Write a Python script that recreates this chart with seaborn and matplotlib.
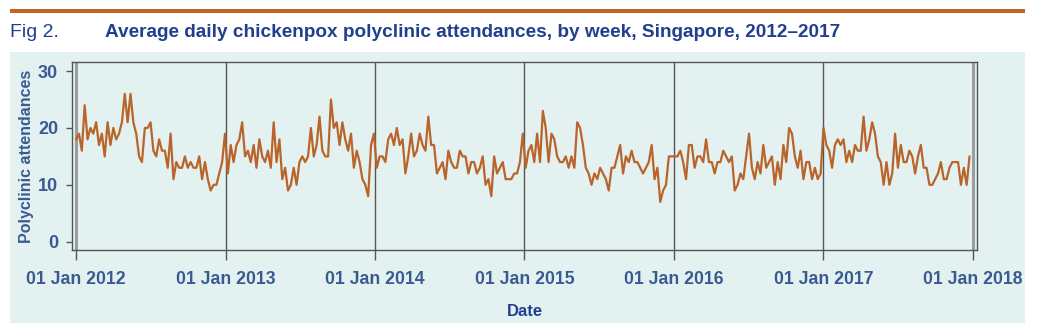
import numpy as np
import pandas as pd
import matplotlib
matplotlib.use("Agg")
import matplotlib.pyplot as plt
import matplotlib.dates as mdates
from matplotlib.patches import Rectangle
import seaborn as sns

# ---- data: average daily attendances by week ----
vals_2012 = [18, 19, 16, 24, 18, 20, 19, 21, 17, 19, 15, 21, 17, 20, 18, 19, 21, 26, 21, 26,
             21, 19, 15, 14, 20, 20, 21, 16, 15, 18, 16, 16, 13, 19, 11, 14, 13, 13, 15, 13,
             14, 13, 13, 15, 11, 14, 11, 9, 10, 10, 12, 14]
vals_2013 = [19, 12, 17, 14, 17, 18, 21, 15, 16, 14, 17, 13, 18, 15, 14, 16, 13, 21, 14, 18,
             11, 13, 9, 10, 13, 10, 14, 15, 14, 15, 20, 15, 17, 22, 16, 15, 15, 25, 20, 21,
             17, 21, 18, 16, 19, 13, 16, 14, 11, 10, 8, 17]
vals_2014 = [19, 13, 15, 15, 14, 18, 19, 17, 20, 17, 18, 12, 15, 19, 15, 16, 19, 17, 16, 22,
             17, 17, 12, 13, 14, 11, 16, 14, 13, 13, 16, 15, 15, 12, 14, 14, 12, 13, 15, 10,
             11, 8, 15, 12, 13, 14, 11, 11, 11, 12, 12, 14]
vals_2015 = [19, 13, 16, 17, 14, 19, 14, 23, 20, 14, 19, 18, 15, 14, 14, 15, 13, 15, 13, 21,
             20, 17, 13, 12, 10, 12, 11, 13, 12, 11, 9, 13, 13, 15, 17, 12, 15, 14, 16, 14,
             14, 13, 12, 13, 14, 17, 11, 13, 7, 9, 10, 15, 15]
vals_2016 = [15, 15, 16, 14, 11, 17, 17, 13, 15, 15, 14, 18, 14, 14, 12, 14, 14, 16, 15, 14,
             15, 9, 10, 12, 11, 15, 19, 13, 11, 14, 12, 17, 13, 14, 15, 10, 14, 11, 17, 14,
             20, 19, 15, 13, 16, 11, 14, 14, 11, 13, 11, 12]
vals_2017 = [20, 17, 16, 13, 17, 18, 17, 18, 14, 16, 14, 17, 16, 16, 22, 16, 18, 21, 19, 15,
             14, 10, 14, 10, 12, 19, 13, 17, 14, 14, 16, 15, 12, 15, 17, 13, 13, 10, 10, 11,
             12, 14, 11, 11, 13, 14, 14, 14, 10, 13, 10, 15]
years = [2012, 2013, 2014, 2015, 2016, 2017, 2018]
y_ticks = [0, 10, 20, 30]

values = vals_2012 + vals_2013 + vals_2014 + vals_2015 + vals_2016 + vals_2017
dates = pd.date_range("2012-01-01", periods=len(values), freq="7D")
df = pd.DataFrame({"Date": dates, "Polyclinic attendances": values})

# ---- style ----
sns.set_theme(style="white")
plt.rcParams["font.family"] = ["Liberation Sans", "DejaVu Sans"]

W, H = 1039, 331
TITLE_BLUE = "#223f8e"
TICK_BLUE = "#3a5a92"
LINE_COL = "#b9642a"
PANEL = "#e3f1f0"
SPINE = "#555555"

fig = plt.figure(figsize=(W / 100, H / 100), dpi=100)
fig.patch.set_facecolor("white")

# background panel
panel = Rectangle((10 / W, (H - 323) / H), (1025 - 10) / W, (323 - 52) / H,
                  transform=fig.transFigure, facecolor=PANEL, edgecolor="none", zorder=-10)
fig.add_artist(panel)
# top rule
rule = Rectangle((10 / W, (H - 12.5) / H), (1025 - 10) / W, 3.5 / H,
                 transform=fig.transFigure, facecolor="#c0651f", edgecolor="none", zorder=-5)
fig.add_artist(rule)

fig.text(10 / W, (H - 37) / H, "Fig 2.", fontsize=14, color=TITLE_BLUE, va="baseline", ha="left")
fig.text(105 / W, (H - 37) / H,
         "Average daily chickenpox polyclinic attendances, by week, Singapore, 2012\u20132017",
         fontsize=13.7, fontweight="bold", color=TITLE_BLUE, va="baseline", ha="left")

ax = fig.add_axes([72 / W, (H - 250) / H, (977.5 - 72) / W, (250 - 62) / H])
ax.set_zorder(1)
ax.set_facecolor("none")

for yr in years:
    d = pd.Timestamp(f"{yr}-01-01")
    if yr in (years[0], years[-1]):
        ax.axvline(d, color="#9a9e9e", linewidth=2.2, zorder=1)
    else:
        ax.axvline(d, color=SPINE, linewidth=1.0, zorder=1)

sns.lineplot(data=df, x="Date", y="Polyclinic attendances", ax=ax,
             color=LINE_COL, linewidth=1.6, zorder=3)

ax.set_xlim(pd.Timestamp("2012-01-01") - pd.Timedelta(days=10),
            pd.Timestamp("2018-01-01") + pd.Timedelta(days=11.5))
ax.set_ylim(-1.46, 31.6)
ax.set_yticks(y_ticks)
ax.xaxis.set_major_locator(mdates.YearLocator())
ax.xaxis.set_major_formatter(mdates.DateFormatter("%d %b %Y"))

for s in ax.spines.values():
    s.set_color(SPINE)
    s.set_linewidth(1.0)

ax.tick_params(axis="y", which="major", left=True, length=4, width=1, color=SPINE,
               pad=6, labelsize=13, labelcolor=TICK_BLUE)
ax.tick_params(axis="x", which="major", bottom=True, length=7, width=1, color=SPINE,
               pad=8, labelsize=12.7, labelcolor=TICK_BLUE)
for lab in ax.get_xticklabels() + ax.get_yticklabels():
    lab.set_fontweight("bold")

ax.set_xlabel("Date", fontsize=12, fontweight="bold", color=TITLE_BLUE, labelpad=12)
ax.set_ylabel("Polyclinic attendances", fontsize=11.5, fontweight="bold", color=TICK_BLUE, labelpad=3)
ax.grid(False)

fig.savefig("out.png", dpi=100)
